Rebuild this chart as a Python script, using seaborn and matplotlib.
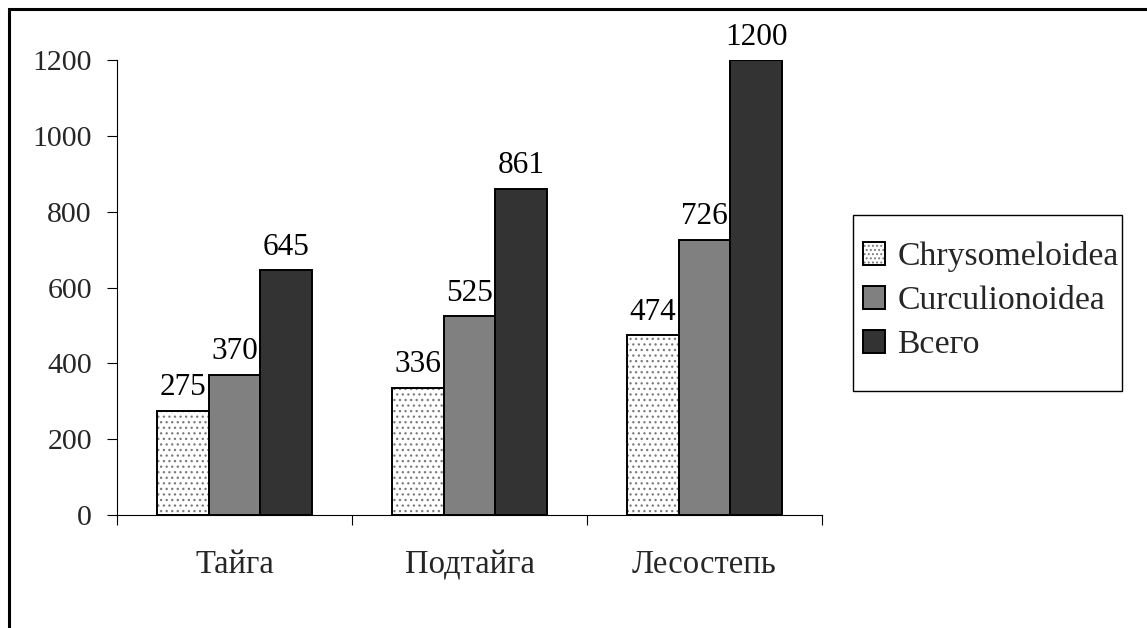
import matplotlib
matplotlib.use("Agg")
import matplotlib.pyplot as plt
from matplotlib.patches import Rectangle
from matplotlib.legend_handler import HandlerTuple
from matplotlib.ticker import FixedLocator, NullFormatter
import seaborn as sns
import pandas as pd

# Species counts per natural zone
zones = ["Тайга", "Подтайга", "Лесостепь"]
chrysomeloidea = [275, 336, 474]
curculionoidea = [370, 525, 726]
vsego = [645, 861, 1200]
series_names = ["Chrysomeloidea", "Curculionoidea", "Всего"]
y_ticks = [0, 200, 400, 600, 800, 1000, 1200]

df = pd.DataFrame({
    "zone": zones * 3,
    "group": [series_names[0]] * 3 + [series_names[1]] * 3 + [series_names[2]] * 3,
    "count": chrysomeloidea + curculionoidea + vsego,
})

sns.set_theme(style="white")
plt.rcParams["font.family"] = ["Liberation Serif", "DejaVu Serif"]
plt.rcParams["hatch.linewidth"] = 0.9

FS = 23.5
W, H = 1147, 628
fig = plt.figure(figsize=(W / 100, H / 100), dpi=100)
fig.patch.set_facecolor("white")

# outer frame (open to the right/bottom edges of the canvas)
fig.add_artist(Rectangle((9 / W, -0.1), 1.2, 1 - 9 / H + 0.1, transform=fig.transFigure,
                         fill=False, edgecolor="black", linewidth=2.2))

ax = fig.add_axes([117 / W, 113 / H, (822 - 117) / W, (515 - 60) / H])

fills = ["white", "#808080", "#333333"]
sns.barplot(data=df, x="zone", y="count", hue="group", hue_order=series_names,
            palette=fills, width=0.66, gap=0, edgecolor="black", linewidth=1.4,
            saturation=1, ax=ax, legend=False, errorbar=None)

# dotted fill for the first series, with a black outline on top
for p in ax.containers[0]:
    p.set_hatch("...")
    p.set_edgecolor("#7a7a7a")
    p.set_linewidth(0)
    ax.add_patch(Rectangle(p.get_xy(), p.get_width(), p.get_height(), fill=False,
                           edgecolor="black", linewidth=1.4, zorder=p.get_zorder() + 0.1))

for cont in ax.containers:
    ax.bar_label(cont, fmt="%d", padding=6, fontsize=22.5, color="black")

ax.set_ylim(0, 1200)
ax.set_xlim(-0.5, len(zones) - 0.5)
ax.set_yticks(y_ticks)
ax.set_yticklabels([str(v) for v in y_ticks])

# ticks at group boundaries, labels at group centres
ax.xaxis.set_major_locator(FixedLocator([i - 0.5 for i in range(len(zones) + 1)]))
ax.xaxis.set_major_formatter(NullFormatter())
ax.xaxis.set_minor_locator(FixedLocator(list(range(len(zones)))))
ax.set_xticklabels(zones, minor=True)
ax.tick_params(axis="x", which="major", direction="out", length=7, width=0.8, color="black", bottom=True)
ax.tick_params(axis="x", which="minor", length=0, pad=25, labelsize=FS, bottom=True)
ax.tick_params(axis="y", direction="out", length=7, width=0.8, color="black", pad=11, labelsize=21.5, left=True)

ax.set_xlabel("")
ax.set_ylabel("")
for s in ["top", "right"]:
    ax.spines[s].set_visible(False)
for s in ["left", "bottom"]:
    ax.spines[s].set_color("black")
    ax.spines[s].set_linewidth(0.8)
ax.grid(False)
ax.set_facecolor("white")

# legend box
fig.add_artist(Rectangle((853 / W, 1 - 391 / H), (1122 - 853) / W, (391 - 215) / H,
                         transform=fig.transFigure, fill=False, edgecolor="black", linewidth=1.0))

h0_fill = Rectangle((0, 0), 1, 1, facecolor="white", hatch="....", edgecolor="#7a7a7a", linewidth=0)
h0_edge = Rectangle((0, 0), 1, 1, fill=False, edgecolor="black", linewidth=1.4)
h1 = Rectangle((0, 0), 1, 1, facecolor=fills[1], edgecolor="black", linewidth=1.4)
h2 = Rectangle((0, 0), 1, 1, facecolor=fills[2], edgecolor="black", linewidth=1.4)
leg = fig.legend([(h0_fill, h0_edge), h1, h2], series_names,
                 handler_map={tuple: HandlerTuple(ndivide=1)},
                 loc="upper left", bbox_to_anchor=(853 / W, 1 - 231 / H),
                 bbox_transform=fig.transFigure, fontsize=24.3, frameon=False,
                 handlelength=0.66, handleheight=0.66,
                 handletextpad=0.35, borderpad=0.3, labelspacing=0.4, borderaxespad=0)

fig.savefig("out.png", dpi=100, facecolor="white")
